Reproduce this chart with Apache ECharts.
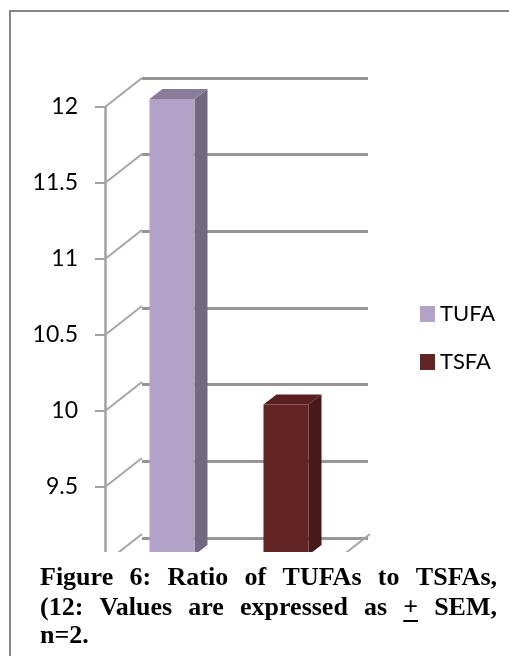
<!DOCTYPE html>
<html>
<head>
<meta charset="utf-8">
<script src="https://cdn.jsdelivr.net/npm/echarts@6/dist/echarts.min.js"></script>
<style>
  html, body { margin: 0; padding: 0; background: #fff; }
  #chart { width: 509px; height: 656px; }
</style>
</head>
<body>
<div id="chart"></div>
<script>
// data
const categories = ['TUFA', 'TSFA'];
const ratioValues = [12.0, 9.99];
const yTicks = [9, 9.5, 10, 10.5, 11, 11.5, 12];
const captionLines = [
  'Figure 6: Ratio of TUFAs to TSFAs,',
  '(12: Values are expressed as + SEM,',
  'n=2.'
];

const faceColors = ['#b3a2c7', '#632523'];
const sideColors = ['#736882', '#471a19'];
const topColors = ['#887c99', '#581f1e'];

const chart = echarts.init(document.getElementById('chart'));

// pseudo 3d column: front face + side + top
function barItem(i) {
  return function (params, api) {
    const p = api.coord([i, api.value(1)]);
    const b = api.coord([i, 9]);
    const w = 45, dx = 13, dy = 10;
    const x0 = p[0] + 10 - w / 2, x1 = x0 + w;
    const top = p[1] - 8, base = b[1] - 8;
    return {
      type: 'group',
      children: [
        { type: 'polygon', shape: { points: [[x1, top], [x1 + dx, top - dy], [x1 + dx, base - dy], [x1, base]] }, style: { fill: sideColors[i] } },
        { type: 'polygon', shape: { points: [[x0, top], [x0 + dx, top - dy], [x1 + dx, top - dy], [x1, top]] }, style: { fill: topColors[i] } },
        { type: 'rect', shape: { x: x0, y: top, width: w, height: base - top }, style: { fill: faceColors[i] } }
      ]
    };
  };
}

// caption, justified like the source
const captionFont = 'bold 26px "Liberation Serif"';
const ctx = document.createElement('canvas').getContext('2d');
ctx.font = captionFont;
const capLeft = 40, capRight = 497;
const capMid = [578, 608, 636];
const captionGraphics = [];
captionLines.forEach((line, li) => {
  const words = line.split(' ');
  const widths = words.map(wd => ctx.measureText(wd).width);
  const total = widths.reduce((a, b) => a + b, 0);
  const justify = li < captionLines.length - 1 && words.length > 1;
  const gap = justify ? (capRight - capLeft - total) / (words.length - 1) : ctx.measureText(' ').width;
  let x = capLeft;
  words.forEach((wd, k) => {
    captionGraphics.push({
      type: 'text', z: 102, x: x, y: capMid[li],
      style: { text: wd, font: captionFont, fill: '#000', align: 'left', verticalAlign: 'middle' }
    });
    if (wd === '+') {
      captionGraphics.push({
        type: 'line', z: 102,
        shape: { x1: x, y1: capMid[li] + 13, x2: x + widths[k], y2: capMid[li] + 13 },
        style: { stroke: '#000', lineWidth: 2 }
      });
    }
    x += widths[k] + gap;
  });
});

const option = {
  backgroundColor: '#fff',
  animation: false,
  grid: [
    { left: 105, top: 107, width: 228, height: 456 },
    { left: 142, top: 78, width: 226, height: 460 }
  ],
  xAxis: [
    { type: 'category', gridIndex: 0, data: categories, show: false },
    { type: 'category', gridIndex: 1, data: categories, show: false }
  ],
  yAxis: [
    {
      type: 'value', gridIndex: 0, min: 9, max: 12, interval: 0.5,
      axisLine: { show: true, lineStyle: { color: '#a0a0a0', width: 2.5 } },
      axisTick: { show: true, length: 10, lineStyle: { color: '#a0a0a0', width: 2 } },
      axisLabel: { margin: 27, color: '#000', fontFamily: 'Lato', fontSize: 23 },
      splitLine: { show: false }
    },
    {
      type: 'value', gridIndex: 1, min: 9, max: 12, interval: 0.5,
      axisLine: { show: false },
      axisTick: { show: false },
      axisLabel: { show: false },
      splitLine: { show: true, lineStyle: { color: '#969696', width: 3 } }
    }
  ],
  legend: {
    data: categories,
    orient: 'vertical',
    left: 415, top: 298,
    icon: 'rect',
    itemWidth: 15, itemHeight: 16, itemGap: 26,
    textStyle: { fontFamily: 'Lato', fontSize: 22, color: '#000', lineHeight: 22 }
  },
  graphic: [
    { type: 'rect', z: 100, shape: { x: 11, y: 552, width: 498, height: 104 }, style: { fill: '#fff' } },
    { type: 'polyline', z: 101, shape: { points: [[10, 656], [10, 11], [509, 11]] }, style: { stroke: '#868686', lineWidth: 2, fill: null } }
  ].concat(captionGraphics),
  series: [
    {
      type: 'custom', name: 'walls', silent: true, clip: false,
      xAxisIndex: 0, yAxisIndex: 0,
      data: yTicks.map(v => [0, v]),
      renderItem(params, api) {
        const cs = params.coordSys;
        const y = api.coord([0, api.value(1)])[1];
        const st = { stroke: '#a6a6a6', lineWidth: 2 };
        const kids = [{ type: 'line', shape: { x1: cs.x, y1: y, x2: cs.x + 37, y2: y - 29 }, style: st }];
        if (api.value(1) === 9) {
          const xr = cs.x + cs.width;
          kids.push({ type: 'line', shape: { x1: xr, y1: y, x2: xr + 37, y2: y - 29 }, style: st });
        }
        return { type: 'group', children: kids };
      }
    }
  ].concat(categories.map((name, i) => ({
    type: 'custom', name: name, clip: false,
    xAxisIndex: 0, yAxisIndex: 0,
    itemStyle: { color: faceColors[i] },
    data: [[i, ratioValues[i]]],
    renderItem: barItem(i)
  })))
};

chart.setOption(option);
</script>
</body>
</html>
